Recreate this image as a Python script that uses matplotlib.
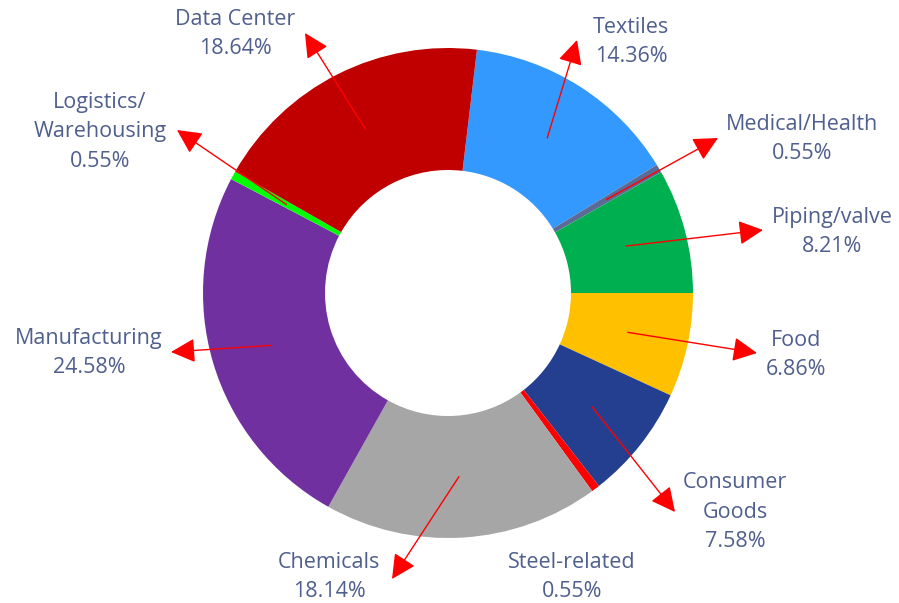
import numpy as np
import matplotlib
matplotlib.use("Agg")
import matplotlib.pyplot as plt

# Slice data, clockwise from the top
sectors = ["Textiles", "Medical/Health", "Piping/valve", "Food", "Consumer\nGoods",
           "Steel-related", "Chemicals", "Manufacturing", "Logistics/\nWarehousing", "Data Center"]
shares = [14.36, 0.55, 8.21, 6.86, 7.58, 0.55, 18.14, 24.58, 0.55, 18.64]
colors = ["#3399FF", "#5B6B96", "#00B050", "#FFC000", "#243F8F",
          "#FF0000", "#A6A6A6", "#7030A0", "#00FF00", "#C00000"]

# Layout (pixels, origin top-left)
W, H = 899, 603
CX, CY = 448, 293
R_OUT, R_IN = 245, 123
label_pos = [(631, 42), (802, 139), (832, 232), (796, 355), (735, 512),
             (572, 577), (329, 577), (89, 353), (100, 132), (235, 34)]
arrow_head = [(577, 40), (718, 138), (763, 230), (757, 353), (675, 512),
              None, (392, 579), (171, 352), (177, 130), (305, 33)]
TEXT_COLOR = "#4F5F8E"

plt.rcParams['font.family'] = ['Open Sans', 'DejaVu Sans']

fig = plt.figure(figsize=(W / 100, H / 100), dpi=100)
ax = fig.add_axes([0, 0, 1, 1])

# start so that Piping/valve ends exactly at 3 o'clock
start = sum(shares[:3]) / sum(shares) * 360
wedges, _ = ax.pie(shares, colors=colors, startangle=start, counterclock=False,
                   center=(CX, H - CY), radius=R_OUT,
                   wedgeprops=dict(width=R_OUT - R_IN, linewidth=0))

ax.set_xlim(0, W)
ax.set_ylim(0, H)
ax.set_aspect('equal')
ax.axis('off')

r_mid = (R_OUT + R_IN) / 2
for w, name, val, lp, head in zip(wedges, sectors, shares, label_pos, arrow_head):
    ax.text(lp[0], H - lp[1], f"{name}\n{val:.2f}%", ha='center', va='center',
            fontsize=15.5, color=TEXT_COLOR, linespacing=1.55)
    if head is None:
        continue
    mid = np.deg2rad((w.theta1 + w.theta2) / 2)
    tail = (CX + r_mid * np.cos(mid), H - CY + r_mid * np.sin(mid))
    ax.annotate("", xy=(head[0], H - head[1]), xytext=tail,
                arrowprops=dict(arrowstyle="-|>,head_length=1.0,head_width=0.5",
                                color="red", lw=1.0, mutation_scale=15,
                                shrinkA=0, shrinkB=0))

fig.savefig("out.png", dpi=100)
